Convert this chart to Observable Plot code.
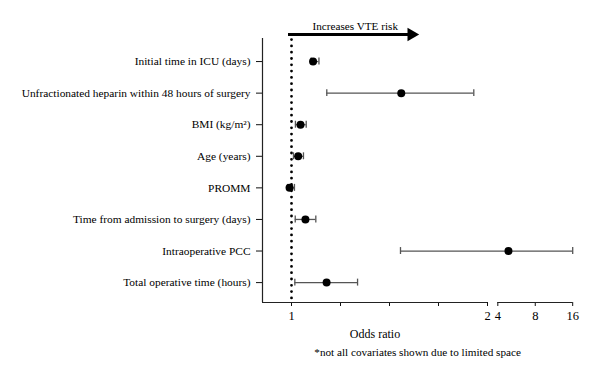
<!DOCTYPE html>
<html><head><meta charset="utf-8">
<script src="https://cdn.jsdelivr.net/npm/d3@7"></script>
<script src="https://cdn.jsdelivr.net/npm/@observablehq/plot@0.6"></script>
<style>body{margin:0;background:#fff}</style>
</head><body><div id="chart"></div>
<script>
const covariates = [
  "Initial time in ICU (days)",
  "Unfractionated heparin within 48 hours of surgery",
  "BMI (kg/m\u00B2)",
  "Age (years)",
  "PROMM",
  "Time from admission to surgery (days)",
  "Intraoperative PCC",
  "Total operative time (hours)"
];
const oddsRatio = [1.11, 1.56, 1.046, 1.034, 0.99, 1.071, 4.87, 1.179];
const ciLow     = [1.10, 1.18, 1.02, 1.01, 0.98, 1.019, 1.556, 1.017];
const ciHigh    = [1.14, 1.93, 1.075, 1.061, 1.015, 1.124, 16, 1.337];
const tickValues = [1, 1.25, 1.5, 1.75, 2, 4, 8, 16];
const tickLabels = ["1", "", "", "", "2", "4", "8", "16"];
const axisSegments = [[0.852, 2], [4, 16]];
const arrowFrom = 1, arrowTo = 1.65;
const arrowText = "Increases VTE risk";
const xTitle = "Odds ratio";
const footnote = "*not all covariates shown due to limited space";

// broken axis: linear up to 2, then log2 from 4 to 16
const f = v => v <= 2 ? v : 2 + 0.0526 + Math.log2(v / 4) * 0.191;
const labelMap = new Map(tickValues.map((v, i) => [f(v), tickLabels[i]]));
const yTop = -0.73, yBot = 7.63;
const idx = d3.range(covariates.length);
const caps = idx.flatMap(i => [{i, v: ciLow[i]}, {i, v: ciHigh[i]}]);

const chart = Plot.plot({
  width: 600, height: 378,
  marginLeft: 262, marginRight: 27.8, marginTop: 38, marginBottom: 76,
  style: {fontFamily: "Liberation Serif, serif", fontSize: "12px", color: "#111", background: "#fff"},
  x: {type: "linear", domain: [f(axisSegments[0][0]), f(axisSegments[1][1])], label: null},
  y: {type: "linear", domain: [yTop, yBot], reverse: true, label: null},
  marks: [
    Plot.axisY(idx, {tickFormat: i => covariates[i], tickSize: 6, tickPadding: 6, fontSize: 11.4, label: null, fill: "#000"}),
    Plot.axisX(tickValues.map(f), {tickFormat: v => labelMap.get(v), tickSize: 4, tickPadding: 5, fontSize: 12.5, label: null, fill: "#000"}),
    Plot.ruleX([axisSegments[0][0]], {x: f, y1: yTop, y2: yBot, stroke: "#222", strokeWidth: 1.2}),
    Plot.ruleY(axisSegments, {y: () => yBot, x1: d => f(d[0]), x2: d => f(d[1]), stroke: "#222", strokeWidth: 1.2}),
    Plot.ruleX([1], {x: f, y1: yTop + 0.05, y2: yBot - 0.1, stroke: "#000", strokeWidth: 2.8, strokeDasharray: "0 6.3", strokeLinecap: "round"}),
    Plot.ruleY(idx, {y: i => i, x1: i => f(ciLow[i]), x2: i => f(ciHigh[i]), stroke: "#555", strokeWidth: 1.3}),
    Plot.ruleX(caps, {x: d => f(d.v), y1: d => d.i - 0.11, y2: d => d.i + 0.11, stroke: "#555", strokeWidth: 1.3}),
    Plot.dot(idx, {x: i => f(oddsRatio[i]), y: i => i, r: 4, fill: "#000", stroke: "none"}),
    Plot.ruleY([arrowFrom], {y: () => yTop - 0.13, x1: d => f(d), x2: () => f(arrowTo), dx: -3, stroke: "#000", strokeWidth: 3}),
    Plot.dot([arrowTo], {x: d => f(d), y: () => yTop - 0.13, symbol: "triangle", rotate: 90, r: 5, dx: -7.5, fill: "#000", stroke: "none"}),
    Plot.text([arrowText], {x: () => (f(arrowFrom) + f(arrowTo)) / 2, y: () => yTop - 0.39, text: d => d, fontSize: 11.2, fill: "#000"}),
    Plot.text([xTitle], {x: () => (f(axisSegments[0][0]) + f(axisSegments[0][1])) / 2, y: () => 8.64, text: d => d, fontSize: 12, fill: "#000"}),
    Plot.text([footnote], {y: () => 9.21, frameAnchor: "middle", text: d => d, fontSize: 11.2, fill: "#000"})
  ]
});
document.getElementById("chart").appendChild(chart);
</script>
</body></html>
